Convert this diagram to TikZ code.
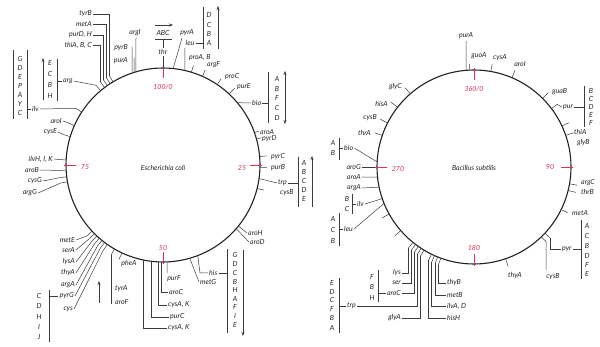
\documentclass[tikz,border=0pt]{standalone}
\usepackage{fontspec}
\setmainfont{Lato}
\usetikzlibrary{calc,arrows.meta}
\definecolor{mapred}{RGB}{226,48,88}
\definecolor{ink}{RGB}{35,35,35}
\definecolor{lineink}{RGB}{60,60,60}
\newcommand\gtick[4]{%
  \coordinate (#3a) at ($(#1)+(#2:97)$);
  \coordinate (#3b) at ($(#1)+(#2:#4)$);
  \draw[conn] (#3a) -- (#3b);}
\tikzset{
  conn/.style={draw=lineink, line width=0.5pt},
  lab/.style={font=\fontsize{7}{8}\selectfont\itshape, text=ink, inner sep=1pt},
  num/.style={lab, text=mapred},
  mk/.style={draw=mapred, line width=0.6pt},
  circ/.style={draw=ink, line width=1.1pt},
  arr/.style={conn, arrows={-Stealth[length=4pt,width=3pt]}},
  darr/.style={conn, arrows={Stealth[length=4pt,width=3pt]-Stealth[length=4pt,width=3pt]}}
}
\begin{document}
\begin{tikzpicture}[x=1pt,y=-1pt]
\useasboundingbox (0,0) rectangle (600,347);
\fill[white] (0,0) rectangle (600,347);

%%%%%%%%%%%%%%%% E. coli
\coordinate (c1) at (163,165);
\draw[circ] (c1) circle[radius=97pt];
\node[lab] (ecoli) at (163,168) {Escherichia coli};

\draw[mk] ($(c1)+(-90:87)$) -- ($(c1)+(-90:99)$);
\node[num] (m0) at (163,87) {100/0};
\draw[mk] ($(c1)+(0:87)$) -- ($(c1)+(0:99)$);
\node[num] (m25) at (242,168) {25};
\draw[mk] ($(c1)+(90:87)$) -- ($(c1)+(90:99)$);
\node[num] (m50) at (163,248) {50};
\draw[mk] ($(c1)+(180:87)$) -- ($(c1)+(180:99)$);
\node[num] (m75) at (85,167) {75};

% upper-left bundle
\gtick{c1}{-121}{tyrBt}{104}
\gtick{c1}{-123}{metAt}{104}
\gtick{c1}{-125}{purDt}{104}
\gtick{c1}{-127}{thiAt}{104}
\gtick{c1}{-130}{argEt}{104}
\node[lab,anchor=east] (tyrB) at (93,14) {tyrB};
\node[lab,anchor=east] (metA) at (93,24) {metA};
\node[lab,anchor=east] (purDH) at (93,35) {purD, H};
\node[lab,anchor=east] (thiABC) at (93,45) {thiA, B, C};
\node[lab,anchor=west] (arg) at (62,81) {arg};
\draw[conn] (tyrBtb) |- (tyrB.east);
\draw[conn] (metAtb) |- (metA.east);
\draw[conn] (purDtb) |- (purDH.east);
\draw[conn] (thiAtb) |- (thiABC.east);
\draw[conn] (argEtb) -- (arg.east);
\foreach \l/\y in {E/63,C/74,B/85,H/96} \node[lab] (ecbh\l) at (50,\y) {\l};
\draw[conn] (57,59) -- (57,101);
\draw[conn] (57,81) -- (arg.west);
\draw[arr] (43,100) -- (43,58);

% G D E P A Y C / ilv
\foreach \l/\y in {G/59,D/68,E/77,P/86,A/95,Y/104,C/113} \node[lab] (ilvg\l) at (20,\y) {\l};
\draw[conn] (13,50) -- (13,119);
\draw[conn] (27,50) -- (27,119);
\node[lab,anchor=west] (ilv) at (31,109) {ilv};
\draw[conn] (27,109) -- (ilv.west);
\gtick{c1}{-147}{ilvt}{104}
\draw[conn] (ilvtb) -- (ilv.east);

% left side
\gtick{c1}{-156}{aroIt}{104}
\node[lab,anchor=east] (aroI) at (63,121) {aroI};
\draw[conn] (aroItb) -- (aroI.east);
\gtick{c1}{-163}{cysEt}{104}
\node[lab,anchor=east] (cysE) at (58,132) {cysE};
\draw[conn] (cysEtb) -- (cysE.east);
\gtick{c1}{-177}{ilvHt}{104}
\node[lab,anchor=east] (ilvHIK) at (54,159) {ilvH, I, K};
\draw[conn] (ilvHtb) -- (ilvHIK.east);
\gtick{c1}{177}{aroBt}{104}
\node[lab,anchor=east] (aroB) at (40,170) {aroB};
\draw[conn] (aroBtb) -- (aroB.east);
\gtick{c1}{173}{cysGt}{104}
\node[lab,anchor=east] (cysG) at (43,181) {cysG};
\draw[conn] (cysGtb) -- (cysG.east);
\gtick{c1}{170}{argGt}{104}
\node[lab,anchor=east] (argG) at (38,193) {argG};
\draw[conn] (argGtb) -- (argG.east);

% lower-left bundle
\gtick{c1}{137}{metEt}{104}
\gtick{c1}{135}{serAt}{104}
\gtick{c1}{133}{lysAt}{104}
\gtick{c1}{131}{thyAt}{104}
\gtick{c1}{129}{argAt}{104}
\gtick{c1}{127}{pyrGt}{104}
\gtick{c1}{125}{cyst}{104}
\node[lab,anchor=east] (metE) at (76,240) {metE};
\node[lab,anchor=east] (serA) at (76,250) {serA};
\node[lab,anchor=east] (lysA) at (76,262) {lysA};
\node[lab,anchor=east] (thyA) at (76,273) {thyA};
\node[lab,anchor=east] (argA) at (76,285) {argA};
\node[lab,anchor=east] (pyrG) at (75,296) {pyrG};
\node[lab,anchor=east] (cys) at (74,309) {cys};
\draw[conn] (metEtb) -- (metE.east);
\draw[conn] (serAtb) -- (serA.east);
\draw[conn] (lysAtb) -- (lysA.east);
\draw[conn] (thyAtb) -- (thyA.east);
\draw[conn] (argAtb) -- (argA.east);
\draw[conn] (pyrGtb) -- (pyrG.east);
\draw[conn] (cystb) -- (cys.east);
\foreach \l/\y in {C/296,D/306,H/317,I/327,J/337} \node[lab] (cysl\l) at (39,\y) {\l};
\draw[conn] (49,290) -- (49,342);
\draw[conn] (49,296) -- (pyrG.west);

% pheA tyrA aroF
\gtick{c1}{115}{pheAt}{104}
\node[lab] (pheA) at (129,264) {pheA};
\gtick{c1}{120}{tyrAt}{104}
\draw[conn] (tyrAtb) -- (111,304);
\node[lab,anchor=west] (tyrA) at (114,289) {tyrA};
\node[lab,anchor=west] (aroF) at (114,302) {aroF};
\draw[arr] (99,303) -- (99,281);

% bottom bundle
\node[lab,anchor=north] (purF) at (174,274) {purF};
\node[lab,anchor=west] (aroC) at (168,292) {aroC};
\node[lab,anchor=west] (cysAK1) at (167,305) {cysA, K};
\node[lab,anchor=west] (purC) at (169,317) {purC};
\node[lab,anchor=west] (cysAK2) at (167,328) {cysA, K};
\draw[conn] ($(c1)+(87.6:97)$) -- (167,273);
\draw[conn] ($(c1)+(91.2:97)$) |- (aroC.west);
\draw[conn] ($(c1)+(93.0:97)$) |- (cysAK1.west);
\draw[conn] ($(c1)+(97.1:97)$) |- (purC.west);
\draw[conn] ($(c1)+(101.9:97)$) |- (cysAK2.west);

% his metG
\node[lab,anchor=west] (his) at (208,273) {his};
\node[lab,anchor=west] (metG) at (199,282) {metG};
\draw[conn] ($(c1)+(69:97)$) -- (200,273) -- (his.west);
\draw[conn] ($(c1)+(74:97)$) -- (metG.west);
\draw[conn] (his.east) -- (227,273);
\draw[conn] (227,249) -- (227,333);
\foreach \l/\y in {G/255,D/264,C/273,B/282,H/290,A/299,F/307,I/316,E/325} \node[lab] (hisl\l) at (235,\y) {\l};
\draw[arr] (243,250) -- (243,336);

% aroH aroD
\node[lab,anchor=west] (aroH) at (247,233) {aroH};
\node[lab,anchor=west] (aroD) at (249,242) {aroD};
\draw[conn] ($(c1)+(39:97)$) -- (aroH.west);
\draw[conn] ($(c1)+(41:97)$) -- (aroD.west);

% right side
\gtick{c1}{-19.5}{aroAt}{102}
\node[lab,anchor=west] (aroA) at (259,132) {aroA};
\gtick{c1}{-15.5}{pyrDt}{102}
\node[lab,anchor=west] (pyrD) at (261,139) {pyrD};
\gtick{c1}{-5}{pyrCt}{104}
\node[lab,anchor=west] (pyrC) at (270,157) {pyrC};
\gtick{c1}{1.5}{purBt}{104}
\node[lab,anchor=west] (purB) at (270,168) {purB};
\node[lab,anchor=west] (trp) at (277,183) {trp};
\draw[conn] ($(c1)+(8:97)$) -- (trp.west);
\draw[conn] (trp.east) -- (298,183);
\draw[conn] (298,157) -- (298,207);
\foreach \l/\y in {A/163,B/172,C/181,D/190,E/199} \node[lab] (trpl\l) at (304,\y) {\l};
\draw[arr] (312,207) -- (312,156);
\gtick{c1}{14}{cysBt}{104}
\node[lab,anchor=west] (cysB) at (279,193) {cysB};

% bio
\node[lab,anchor=west] (bio) at (251,103) {bio};
\draw[conn] ($(c1)+(-40:97)$) -- (bio.west);
\draw[conn] (bio.east) -- (268,103);
\draw[conn] (268,72) -- (268,123);
\foreach \l/\y in {A/79,B/89,F/98,C/108,D/118} \node[lab] (biol\l) at (277,\y) {\l};
\draw[darr] (285,71) -- (285,124);

% top right
\gtick{c1}{-56}{proCt}{104}
\node[lab,anchor=west] (proC) at (224,77) {proC};
\gtick{c1}{-47}{purEt}{105}
\node[lab,anchor=west] (purE) at (236,87) {purE};
\gtick{c1}{-66}{argFt}{104}
\node[lab,anchor=west] (argF) at (206,65) {argF};
\gtick{c1}{-73}{proABt}{104}
\node[lab,anchor=west] (proAB) at (188,58) {proA, B};
\node[lab] (leu) at (190,43) {leu};
\draw[conn] ($(c1)+(-77:97)$) -- (185,48);
\draw[conn] (leu.east) -- (203,43);
\draw[conn] (203,7) -- (203,49);
\foreach \l/\y in {D/15,C/25,B/34,A/43} \node[lab] (leul\l) at (209,\y) {\l};
\draw[arr] (218,49) -- (218,6);
\node[lab] (pyrA) at (187,33) {pyrA};
\draw[conn] ($(c1)+(-84:97)$) -- (182,38);

% thr / ABC
\node[lab] (ABC) at (163,33) {ABC};
\draw[arr] (155,25) -- (173,25);
\draw[conn] (155,39) -- (172,39);
\node[lab] (thr) at (163,52) {thr};
\draw[conn] (163,39) -- (thr.north);
\draw[conn] (thr.south) -- ($(c1)+(-90:97)$);

% argI pyrB purA
\node[lab] (argI) at (135,33) {argI};
\draw[conn] ($(c1)+(-106.2:97)$) -- (136,38);
\node[lab,anchor=east] (pyrB) at (129,48) {pyrB};
\node[lab,anchor=east] (purA) at (129,61) {purA};
\draw[conn] ($(c1)+(-108.6:97)$) -- (132,47);
\draw[conn] ($(c1)+(-107.3:97)$) -- (134.2,58);

%%%%%%%%%%%%%%%% B. subtilis
\coordinate (c2) at (474,167);
\draw[circ] (c2) circle[radius=97pt];
\node[lab] (bsub) at (474,168) {Bacillus subtilis};

\draw[mk] ($(c2)+(-90:87)$) -- ($(c2)+(-90:99)$);
\node[num] (n0) at (474,89) {360/0};
\draw[mk] ($(c2)+(0:87)$) -- ($(c2)+(0:99)$);
\node[num] (n90) at (550,167) {90};
\draw[mk] ($(c2)+(90:87)$) -- ($(c2)+(90:99)$);
\node[num] (n180) at (474,248) {180};
\draw[mk] ($(c2)+(180:87)$) -- ($(c2)+(180:99)$);
\node[num] (n270) at (398,169) {270};

% top
\node[lab] (bpurA) at (466,36) {purA};
\draw[conn] ($(c2)+(-94.7:97)$) -- (466,41);
\gtick{c2}{-92.5}{guoAt}{103}
\node[lab] (guoA) at (479,56) {guoA};
\gtick{c2}{-80}{bcysAt}{105}
\node[lab] (bcysA) at (500,58) {cysA};
\gtick{c2}{-67}{baroIt}{105}
\node[lab] (baroI) at (520,64) {aroI};
\gtick{c2}{-45}{guaBt}{105}
\node[lab,anchor=west] (guaB) at (551,92) {guaB};
\gtick{c2}{-37}{purt}{104}
\node[lab,anchor=west] (pur) at (562,107) {pur};
\draw[conn] (purtb) -- (pur.west);
\draw[conn] (pur.east) -- (584,107);
\draw[conn] (584,86) -- (584,127);
\foreach \l/\y in {B/91,C/99,D/107,E/115,F/123} \node[lab] (purl\l) at (591,\y) {\l};
\gtick{c2}{-25}{thiAt2}{105}
\node[lab,anchor=west] (bthiA) at (573,132) {thiA};
\gtick{c2}{-19}{glyBt}{105}
\node[lab,anchor=west] (glyB) at (576,143) {glyB};
\gtick{c2}{10}{argCt}{105}
\node[lab,anchor=west] (argC) at (580,183) {argC};
\gtick{c2}{14}{thrBt}{105}
\node[lab,anchor=west] (thrB) at (580,192) {thrB};
\gtick{c2}{26}{bmetAt}{104}
\node[lab,anchor=west] (bmetA) at (571,213) {metA};

% pyr / cysB
\gtick{c2}{43}{pyrt}{104}
\gtick{c2}{46}{bcysBt}{104}
\node[lab,anchor=west] (pyr) at (561,249) {pyr};
\node[lab] (bcysB) at (553,277) {cysB};
\draw[conn] (pyrtb) |- (pyr.west);
\draw[conn] (bcysBtb) -- (546.2,270);
\draw[conn] (pyr.east) -- (581,249);
\draw[conn] (581,220) -- (581,279);
\foreach \l/\y in {A/226,C/236,B/246,D/256,F/265,E/274} \node[lab] (pyrl\l) at (587,\y) {\l};

\gtick{c2}{71}{bthyAt}{105}
\node[lab] (bthyA) at (515,276) {thyA};

% bottom bundle right group
\gtick{c2}{110}{thyBt}{104}
\gtick{c2}{112}{metBt}{104}
\gtick{c2}{114}{ilvADt}{104}
\gtick{c2}{116}{hisHt}{104}
\node[lab,anchor=west] (thyB) at (446,283) {thyB};
\node[lab,anchor=west] (metB) at (446,295) {metB};
\node[lab,anchor=west] (ilvAD) at (446,306) {ilvA, D};
\node[lab,anchor=west] (hisH) at (446,318) {hisH};
\draw[conn] (thyBtb) |- (thyB.west);
\draw[conn] (metBtb) |- (metB.west);
\draw[conn] (ilvADtb) |- (ilvAD.west);
\draw[conn] (hisHtb) |- (hisH.west);

% bottom bundle left group
\gtick{c2}{129}{lyst}{104}
\gtick{c2}{127}{sert}{104}
\gtick{c2}{125}{baroCt}{104}
\gtick{c2}{123}{btrpt}{104}
\gtick{c2}{121}{glyAt}{104}
\node[lab,anchor=east] (lys) at (402,273) {lys};
\node[lab,anchor=east] (ser) at (402,283) {ser};
\node[lab,anchor=east] (baroC) at (402,293) {aroC};
\node[lab,anchor=east] (btrp) at (357,306) {trp};
\node[lab,anchor=east] (glyA) at (402,318) {glyA};
\draw[conn] (lystb) |- (lys.east);
\draw[conn] (sertb) |- (ser.east);
\draw[conn] (baroCtb) |- (baroC.east);
\draw[conn] (btrptb) |- (btrp.east);
\draw[conn] (glyAtb) |- (glyA.east);
\foreach \l/\y in {F/277,B/287,H/298} \node[lab] (arol\l) at (372,\y) {\l};
\draw[conn] (378,270) -- (378,302);
\draw[conn] (378,293) -- (baroC.west);
\foreach \l/\y in {E/283,D/292,C/300,F/309,B/318,A/328} \node[lab] (btrpl\l) at (332,\y) {\l};
\draw[conn] (339,278) -- (339,333);
\draw[conn] (339,306) -- (btrp.west);

% left side
\gtick{c2}{-131}{glyCt}{105}
\node[lab,anchor=east] (glyC) at (403,87) {glyC};
\gtick{c2}{-142}{hisAt}{105}
\node[lab,anchor=east] (hisA) at (389,104) {hisA};
\gtick{c2}{-153}{bcysB2t}{105}
\node[lab,anchor=east] (bcysB2) at (378,118) {cysB};
\gtick{c2}{-161}{thrAt}{105}
\node[lab,anchor=east] (thrA) at (372,133) {thrA};

\node[lab,anchor=west] (bbio) at (343,148) {bio};
\draw[conn] (bbio.east) -- ($(c2)+(-177:97)$);
\draw[conn] (339,138) -- (339,160);
\draw[conn] (339,148) -- (bbio.west);
\foreach \l/\y in {A/143,B/153} \node[lab] (bbiol\l) at (333,\y) {\l};

\node[lab,anchor=east] (aroG) at (362,167) {aroG};
\draw[conn] (aroG.east) -- ($(c2)+(180:99)$);
\node[lab,anchor=east] (baroA) at (362,177) {aroA};
\draw[conn] (baroA.east) -- ($(c2)+(174:97)$);
\node[lab,anchor=east] (bargA) at (362,188) {argA};
\draw[conn] (bargA.east) -- ($(c2)+(168:97)$);

\node[lab,anchor=west] (bilv) at (356,204) {ilv};
\draw[conn] (bilv.east) -- ($(c2)+(161:97)$);
\draw[conn] (352,194) -- (352,214);
\draw[conn] (352,204) -- (bilv.west);
\foreach \l/\y in {B/199,C/209} \node[lab] (bilvl\l) at (347,\y) {\l};

\node[lab,anchor=west] (leu2) at (343,229) {leu};
\draw[conn] (leu2.east) -- ($(c2)+(158:97)$);
\draw[conn] (339,213) -- (339,246);
\draw[conn] (339,229) -- (leu2.west);
\foreach \l/\y in {A/219,C/230,B/241} \node[lab] (bleul\l) at (333,\y) {\l};

\gtick{c2}{151}{ux1}{105}
\gtick{c2}{139}{ux2}{105}
\end{tikzpicture}
\end{document}
